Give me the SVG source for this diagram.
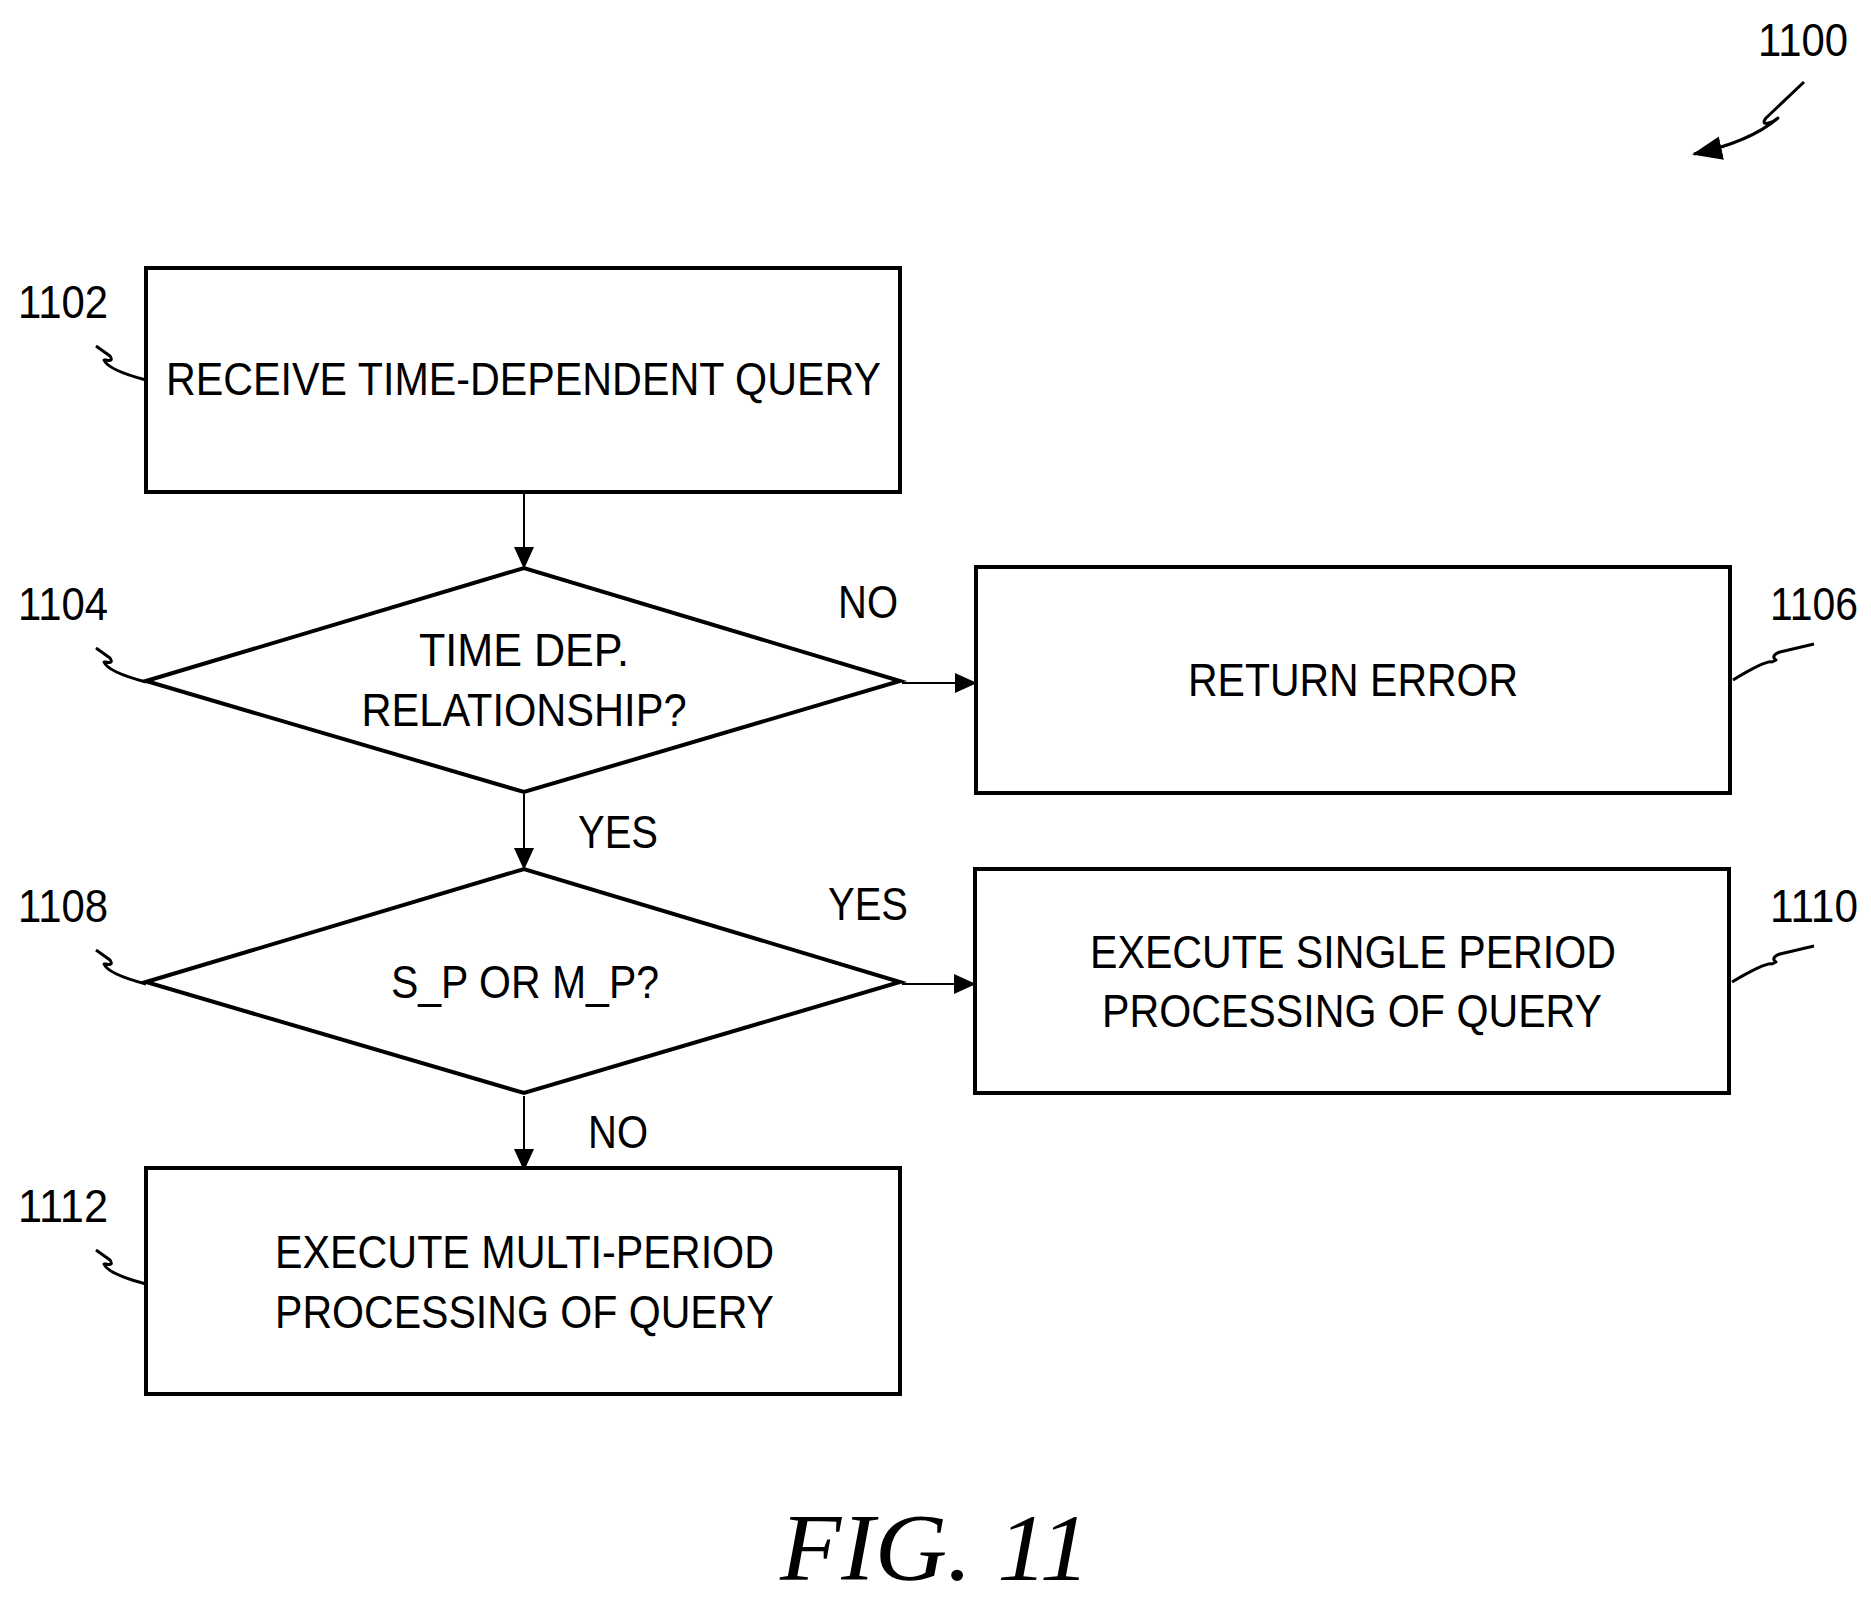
<svg xmlns="http://www.w3.org/2000/svg" width="1871" height="1610" viewBox="0 0 1871 1610">
<style>
.b{fill:#fff;stroke:#000;stroke-width:4}
.t{font-family:"Liberation Sans",Arial,sans-serif;font-size:46px;fill:#000}
.c{stroke:#000;stroke-width:2;fill:none}
.s{stroke:#000;stroke-width:3;fill:none;stroke-linejoin:round}
</style>
<defs><marker id="a" markerWidth="22" markerHeight="20" refX="21" refY="10" orient="auto" markerUnits="userSpaceOnUse"><path d="M0,0 L22,10 L0,20 Z" fill="#000"/></marker>
<marker id="a2" markerWidth="30" markerHeight="24" refX="28" refY="12" orient="auto" markerUnits="userSpaceOnUse"><path d="M0,0 L30,12 L0,24 Z" fill="#000"/></marker></defs>
<rect width="1871" height="1610" fill="#fff"/>
<g id="connectors">
<path class="c" d="M524,494 V568" marker-end="url(#a)"/>
<path class="c" d="M902,683 H976" marker-end="url(#a)"/>
<path class="c" d="M524,794 V869" marker-end="url(#a)"/>
<path class="c" d="M902,984 H975" marker-end="url(#a)"/>
<path class="c" d="M524,1096 V1170" marker-end="url(#a)"/>
<text class="t" x="838" y="618" textLength="60" lengthAdjust="spacingAndGlyphs">NO</text>
<text class="t" x="578" y="848" textLength="80" lengthAdjust="spacingAndGlyphs">YES</text>
<text class="t" x="828" y="920" textLength="80" lengthAdjust="spacingAndGlyphs">YES</text>
<text class="t" x="588" y="1148" textLength="60" lengthAdjust="spacingAndGlyphs">NO</text>
</g>
<g id="n1100">
<text class="t" x="1758" y="56" textLength="90" lengthAdjust="spacingAndGlyphs">1100</text>
<path class="s" d="M1804,82 L1766,118 Q1760,126 1772,122 L1778,118 Q1750,142 1694,154" marker-end="url(#a2)"/>
</g>
<g id="n1102">
<rect class="b" x="146" y="268" width="754" height="224"/>
<text class="t" x="166" y="395" textLength="715" lengthAdjust="spacingAndGlyphs">RECEIVE TIME-DEPENDENT QUERY</text>
<text class="t" x="18" y="318" textLength="90" lengthAdjust="spacingAndGlyphs">1102</text>
<path class="s" d="M96,346 L110,356 Q114,362 106,360 L104,360 Q108,370 146,380"/>
</g>
<g id="n1104">
<polygon class="b" points="146,681 524,568 900,681 524,792"/>
<text class="t" x="524" y="666" text-anchor="middle" textLength="210" lengthAdjust="spacingAndGlyphs">TIME DEP.</text>
<text class="t" x="524" y="726" text-anchor="middle" textLength="325" lengthAdjust="spacingAndGlyphs">RELATIONSHIP?</text>
<text class="t" x="18" y="620" textLength="90" lengthAdjust="spacingAndGlyphs">1104</text>
<path class="s" d="M96,648 L110,658 Q114,664 106,662 L104,662 Q108,672 146,682"/>
</g>
<g id="n1106">
<rect class="b" x="976" y="567" width="754" height="226"/>
<text class="t" x="1188" y="696" textLength="330" lengthAdjust="spacingAndGlyphs">RETURN ERROR</text>
<text class="t" x="1770" y="620" textLength="88" lengthAdjust="spacingAndGlyphs">1106</text>
<path class="s" d="M1733,680 Q1766,660 1772,662 L1776,660 Q1770,656 1780,652 L1814,644"/>
</g>
<g id="n1108">
<polygon class="b" points="146,982 524,869 900,982 524,1093"/>
<text class="t" x="391" y="998" textLength="268" lengthAdjust="spacingAndGlyphs">S_P OR M_P?</text>
<text class="t" x="18" y="922" textLength="90" lengthAdjust="spacingAndGlyphs">1108</text>
<path class="s" d="M96,950 L110,960 Q114,966 106,964 L104,964 Q108,974 146,984"/>
</g>
<g id="n1110">
<rect class="b" x="975" y="869" width="754" height="224"/>
<text class="t" x="1090" y="968" textLength="526" lengthAdjust="spacingAndGlyphs">EXECUTE SINGLE PERIOD</text>
<text class="t" x="1102" y="1027" textLength="500" lengthAdjust="spacingAndGlyphs">PROCESSING OF QUERY</text>
<text class="t" x="1770" y="922" textLength="88" lengthAdjust="spacingAndGlyphs">1110</text>
<path class="s" d="M1732,982 Q1766,962 1772,964 L1776,962 Q1770,958 1780,954 L1814,946"/>
</g>
<g id="n1112">
<rect class="b" x="146" y="1168" width="754" height="226"/>
<text class="t" x="275" y="1268" textLength="499" lengthAdjust="spacingAndGlyphs">EXECUTE MULTI-PERIOD</text>
<text class="t" x="275" y="1328" textLength="499" lengthAdjust="spacingAndGlyphs">PROCESSING OF QUERY</text>
<text class="t" x="18" y="1222" textLength="90" lengthAdjust="spacingAndGlyphs">1112</text>
<path class="s" d="M96,1250 L110,1260 Q114,1266 106,1264 L104,1264 Q108,1274 146,1284"/>
</g>
<text x="780" y="1580" font-family="Liberation Serif,serif" font-style="italic" font-size="96" textLength="310" lengthAdjust="spacingAndGlyphs">FIG. 11</text>
</svg>
